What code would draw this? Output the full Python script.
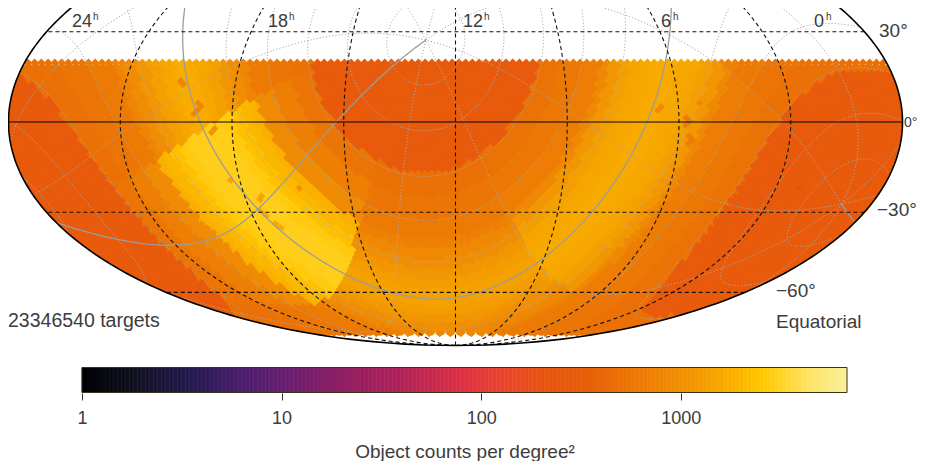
import numpy as np, pandas as pd, altair as alt

FONT = "Liberation Sans"
TXT = "#3c3c3c"

# colour scale
stops = [1, 1.8, 3.5, 6.2, 10, 19.5, 39, 78, 123, 200, 347, 600, 1000, 1600, 2450, 3200, 4500, 6800]
cols = ["#000004", "#10101f", "#231a4e", "#4a1e6d", "#651e6e", "#8e1f64", "#b02058", "#dd2f45",
        "#ea4332", "#e9530f", "#e8600a", "#ec7a05", "#f08f05", "#f7a800", "#ffc400", "#ffd42a", "#fde46a", "#faf09a"]
bar_max = 6800
bar_ticks = [1, 10, 100, 1000]

# counts per deg^2, per galactic longitude sector and |b| bin
b_edges = [0, 4, 8, 12, 16, 20, 23, 30, 38, 46, 90]
l_edges = [0, 30, 90, 180, 270, 330, 360]
table = [
    [2900, 2900, 2700, 2300, 2000, 1800, 900, 680, 540, 285],
    [1700, 1550, 1350, 1150, 950, 780, 620, 540, 500, 285],
    [1500, 1400, 1200, 1000, 820, 700, 600, 540, 500, 285],
    [1650, 1600, 1500, 1350, 1150, 850, 650, 570, 520, 285],
    [1400, 1300, 1150, 1000, 850, 720, 620, 550, 500, 285],
    [2900, 2900, 2700, 2300, 2000, 1800, 900, 680, 540, 285],
]
# low-count clumps: ra, dec, radius, value
spots = [(291.7, 13, 1.3, 800), (284, 6.3, 1.3, 850), (283, 4.3, 1.3, 800), (285.5, 2, 1.3, 800), (277.5, -3, 1.3, 1100),
         (274, -20, 1.3, 1500), (263.6, -25, 1.3, 1500), (265, -31, 1.3, 1500), (261.5, -35, 1.3, 1500), (246, -22, 1.3, 1100),
         (87, 0, 1.3, 600), (85, -6, 1.5, 650), (82, 6, 1.3, 800), (98, 4, 1.3, 900), (36, -22, 1, 190)]
footprint = (-80, 20.5)
nside = 32

ra_lines = [45, 90, 135, 180, 225, 270, 315]
dec_lines = [30, -30, -60]
gal_b_lines = [-75, -60, -45, -30, -15, 15, 30, 45, 60, 75]
gal_l_lines = [45, 90, 135, 180, 225, 270, 315]

R = np.array([[-0.0548755604, -0.8734370902, -0.4838350155],
              [0.4941094279, -0.4448296300, 0.7469822445],
              [-0.8676661490, -0.1980763734, 0.4559837762]])


def vec(a, d):
    a, d = np.radians(a), np.radians(d)
    return np.array([np.cos(d) * np.cos(a), np.cos(d) * np.sin(a), np.sin(d)])


def unvec(v):
    return np.degrees(np.arctan2(v[1], v[0])) % 360, np.degrees(np.arcsin(np.clip(v[2], -1, 1)))


def moll(ra, dec):
    ra, dec = np.asarray(ra, float), np.asarray(dec, float)
    lam = np.radians((360 - ra) % 360 - 180)
    target = np.pi * np.sin(np.radians(dec))
    lo, hi = -np.pi / 2 * np.ones_like(dec), np.pi / 2 * np.ones_like(dec)
    for _ in range(40):
        m = (lo + hi) / 2
        f = 2 * m + np.sin(2 * m) < target
        lo = np.where(f, m, lo)
        hi = np.where(f, hi, m)
    t = (lo + hi) / 2
    return 2 * np.sqrt(2) / np.pi * lam * np.cos(t), np.sqrt(2) * np.sin(t), lam


# HEALPix ring centres
zs, phis = [], []
N = nside
for i in range(1, 4 * N):
    if i < N:
        z = 1 - i * i / (3 * N * N); n = 4 * i; p = (np.arange(1, n + 1) - 0.5) * np.pi / (2 * i)
    elif i <= 3 * N:
        z = 4 / 3 - 2 * i / (3 * N); s = (i - N + 1) % 2; p = (np.arange(1, 4 * N + 1) - s / 2) * np.pi / (2 * N)
    else:
        k = 4 * N - i
        z = -(1 - k * k / (3 * N * N)); n = 4 * k; p = (np.arange(1, n + 1) - 0.5) * np.pi / (2 * k)
    zs.append(np.full(len(p), z)); phis.append(p)
z = np.concatenate(zs); phi = np.concatenate(phis)
ra = np.degrees(phi); dec = np.degrees(np.arcsin(z))
keep = (dec <= footprint[1]) & (dec >= footprint[0])
ra, dec = ra[keep], dec[keep]
gl, gb = unvec(R @ vec(ra, dec))
li = np.clip(np.searchsorted(l_edges, gl, side="right") - 1, 0, len(l_edges) - 2)
bi = np.clip(np.searchsorted(b_edges, np.abs(gb), side="right") - 1, 0, len(b_edges) - 2)
val = np.array(table, float)[li, bi]
cv = vec(ra, dec)
for sr, sd, rad, sv in spots:
    val = np.where(cv.T @ vec(sr, sd) > np.cos(np.radians(rad)), sv, val)
cx, cy, clam = moll(ra, dec)
cells = pd.DataFrame({"x": cx.round(4), "y": cy.round(4), "v": val})
under = cells[(dec < 18) & (dec > footprint[0] + 1.5)]


def lines(pairs):
    frames = []
    for k, (r, d) in enumerate(pairs):
        x, y, lam = moll(r, d)
        seg = np.concatenate([[0], np.cumsum(np.abs(np.diff(lam)) > np.pi)])
        frames.append(pd.DataFrame({"x": x.round(4), "y": y.round(4), "g": [f"{k}_{s}" for s in seg], "i": np.arange(len(x))}))
    return pd.concat(frames, ignore_index=True)


tt = np.linspace(0, 360, 361)
dd = np.linspace(-90, 90, 181)
ll_full = np.linspace(0, 360, 361)


def gal(l, b):
    return unvec(R.T @ vec(l, b))


eq_dash = lines([(np.full(181, float(r)), dd) for r in ra_lines] + [(np.clip(tt, 0.001, 359.999), np.full(361, float(d))) for d in dec_lines])
equator = lines([(np.clip(tt, 0.001, 359.999), np.zeros(361))])
edge = pd.concat([lines([(np.full(181, 0.0001), dd)]), lines([(np.full(181, 359.9999), dd)]).assign(g="r")], ignore_index=True)
gal_dot = lines([gal(ll_full, np.full(361, float(b))) for b in gal_b_lines] +
                [gal(np.full(181, float(l)), dd) for l in gal_l_lines])
gal_solid = lines([gal(ll_full, np.zeros(361)), gal(np.full(181, 0.0), dd)])

SQ2 = np.sqrt(2)
# white mask outside the ellipse, so cell corners do not spill past the outline
mx = np.linspace(-2 * SQ2, 2 * SQ2, 401)
my = SQ2 * np.sqrt(np.clip(1 - (mx / (2 * SQ2)) ** 2, 0, 1))
mx = np.concatenate([[-3.2], mx, [3.2]]); my = np.concatenate([[0], my, [0]])
mask = pd.DataFrame({"x": mx, "lo": my, "hi": 2.2, "lo2": -my, "hi2": -2.2})

xs = alt.Scale(domain=[-2 * SQ2, 2 * SQ2], range=[0.5, 894.5], nice=False, zero=False)
ys = alt.Scale(domain=[-SQ2, SQ2], range=[337.5, -109.5], nice=False, zero=False)
cs = alt.Scale(type="log", domain=stops, range=cols, interpolate="rgb")
X = alt.X("x:Q", scale=xs, axis=None)
Y = alt.Y("y:Q", scale=ys, axis=None)


def line(df, **kw):
    return alt.Chart(df).mark_line(clip=True, **kw).encode(x=X, y=Y, detail="g:N", order="i:Q")


under_layer = alt.Chart(under).mark_point(shape="circle", filled=True, size=110, opacity=1, strokeWidth=0, clip=True).encode(
    x=X, y=Y, color=alt.Color("v:Q", scale=cs, legend=None))
cell_layer = alt.Chart(cells).mark_point(shape="diamond", filled=True, size=72, opacity=1, strokeWidth=0, clip=True).encode(
    x=X, y=Y, color=alt.Color("v:Q", scale=cs, legend=None))
mask_top = alt.Chart(mask).mark_area(color="white", clip=True).encode(x=X, y=alt.Y("lo:Q", scale=ys, axis=None), y2="hi:Q")
mask_bot = alt.Chart(mask).mark_area(color="white", clip=True).encode(x=X, y=alt.Y("lo2:Q", scale=ys, axis=None), y2="hi2:Q")

map_layer = alt.layer(
    under_layer, cell_layer, mask_top, mask_bot,
    line(gal_dot, stroke="#a9a9a9", strokeWidth=1, strokeDash=[1.2, 2]),
    line(gal_solid, stroke="#9c9c9c", strokeWidth=1.3),
    line(eq_dash, stroke="#111111", strokeWidth=1.1, strokeDash=[4, 3]),
    line(equator, stroke="#000000", strokeWidth=1.4, opacity=0.65),
    line(edge, stroke="#000000", strokeWidth=1.6),
)

# colour bar
bar_n = 192
e = np.logspace(0, np.log10(bar_max), bar_n + 1)
bar = pd.DataFrame({"a": e[:-1], "b": e[1:], "v": np.sqrt(e[:-1] * e[1:])})
bx = alt.Scale(type="log", domain=[1, bar_max], range=[74, 839], nice=False)
by = alt.Scale(domain=[0, 1], range=[384.5, 359.5], nice=False, zero=False)
bar_axis = alt.Axis(values=bar_ticks, format="d", title="Object counts per degree²", grid=False, domain=False,
                    tickSize=7, tickColor="#333333", tickWidth=1, labelFont=FONT, labelFontSize=18, labelColor=TXT,
                    labelPadding=9, titleFont=FONT, titleFontSize=19, titleFontWeight="normal", titleColor=TXT,
                    titlePadding=15, labelOverlap=False, labelFlush=False)
bar_layer = alt.Chart(bar).mark_rect(strokeWidth=0.6).encode(
    x=alt.X("a:Q", scale=bx, axis=bar_axis), x2="b:Q",
    y=alt.Y("y0:Q", scale=by, axis=None), y2="y1:Q",
    color=alt.Color("v:Q", scale=cs, legend=None),
    stroke=alt.Color("v:Q", scale=cs, legend=None)).transform_calculate(y0="0", y1="1")
frame = alt.Chart(pd.DataFrame({"a": [1], "b": [bar_max], "y0": [0], "y1": [1]})).mark_rect(
    fill=None, stroke="#3a3320", strokeWidth=1).encode(
    x=alt.X("a:Q", scale=bx, axis=None), x2="b:Q", y=alt.Y("y0:Q", scale=by, axis=None), y2="y1:Q")

# text annotations: text, left x, baseline y, size (page px)
labels = [("24", 72, 27, 18), ("h", 93, 20, 10), ("18", 268, 27, 18), ("h", 289, 20, 10),
          ("12", 463, 27, 18), ("h", 484, 20, 10), ("6", 661, 27, 18), ("h", 673, 20, 10),
          ("0", 814, 27, 18), ("h", 826, 20, 10), ("30°", 879, 37, 19), ("0°", 904, 127, 14),
          ("−30°", 877, 216, 19), ("−60°", 776, 297, 19), ("Equatorial", 776, 328, 19),
          ("23346540 targets", 8, 327, 19.5)]
text_layers = [alt.Chart(pd.DataFrame({"t": [t]})).mark_text(align="left", baseline="alphabetic", font=FONT, fontSize=s,
               color=TXT, clip=False).encode(x=alt.value(x - 8), y=alt.value(y - 8), text="t:N") for t, x, y, s in labels]

chart = alt.layer(map_layer, bar_layer, frame, *text_layers).resolve_scale(x="independent", y="independent").properties(
    width=910, height=385, padding={"left": 0, "top": 0, "right": 0, "bottom": 68},
    autosize=alt.AutoSizeParams(type="none"), background="white"
).configure_view(stroke=None)

chart.save("out.html", embed_options={"renderer": "svg", "actions": False})
